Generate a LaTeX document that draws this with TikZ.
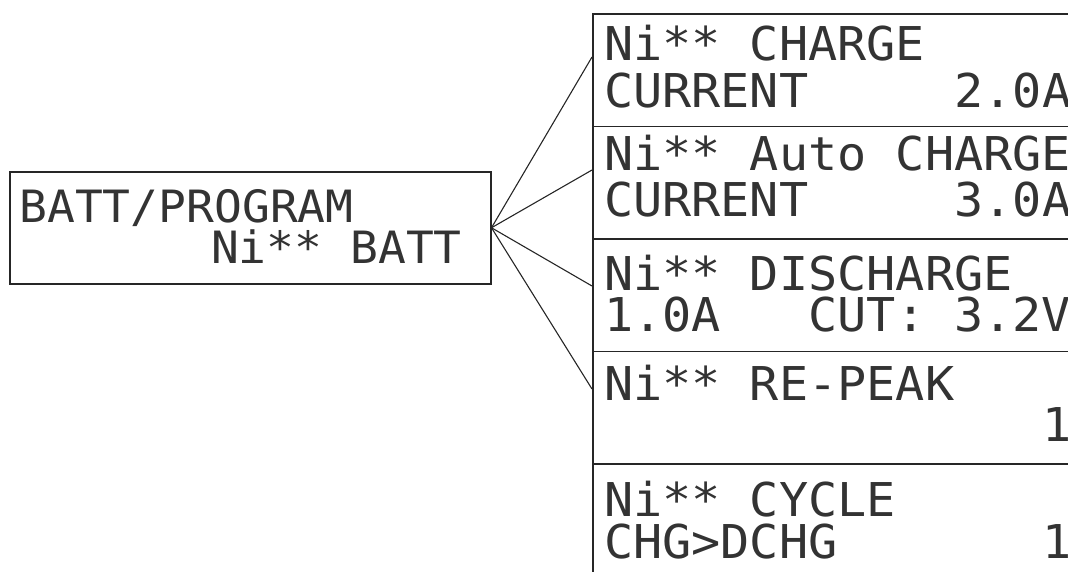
\documentclass[tikz,border=0pt]{standalone}
\usepackage{fontspec}
\newfontfamily\lcdfont[FakeStretch=1.04]{DejaVu Sans Mono}
\begin{document}
\begin{tikzpicture}[x=1pt,y=-1pt,
  panel/.style={draw=black!85, line width=1.5pt, inner sep=0pt, anchor=north west},
  lcd/.style={anchor=base west, inner sep=0pt, outer sep=0pt, text=black!80,
    text height=34pt, text depth=0pt,
    font=\lcdfont\fontsize{46.6}{46.6}\selectfont},
  lcdsmall/.style={lcd, text height=32pt, font=\lcdfont\fontsize{44.5}{44.5}\selectfont},
  link/.style={draw=black!85, line width=1.1pt}]
\useasboundingbox (0,0) rectangle (1068,571);
\clip (0,0) rectangle (1068,571);
% left panel
\node[panel, minimum width=481pt, minimum height=112pt] (lbox) at (9,171) {};
\node[lcdsmall] (l1) at (19.3,222) {BATT/PROGRAM};
\node[lcdsmall] (l2) at ({19.3+7*27.4},263) {Ni** BATT};
% right panels
\foreach \i/\y in {1/13.3,2/125.8,3/238.3,4/350.8,5/463.3}
  \node[panel, minimum width=498pt, minimum height=112.5pt] (r\i) at (592,\y) {};
% connector ends
\coordinate (e1) at (592,57);
\coordinate (e2) at (592,170);
\coordinate (e3) at (592,286);
\coordinate (e4) at (592,389);
\foreach \i in {1,2,3,4}
  \draw[link] (lbox.east) -- (e\i);
% texts
\def\xo{604.1}\def\pc{29.2}
\node[lcd] (t1a) at (\xo,60) {Ni** CHARGE};
\node[lcd] (t1b) at (\xo,107) {CURRENT};
\node[lcd] (t1c) at ({\xo+12*\pc},107) {2.0A};
\node[lcd] (t2a) at (\xo,170) {Ni** Auto CHARGE};
\node[lcd] (t2b) at (\xo,216.7) {CURRENT};
\node[lcd] (t2c) at ({\xo+12*\pc},216.7) {3.0A};
\node[lcd] (t3a) at (\xo,290) {Ni** DISCHARGE};
\node[lcd] (t3b) at (\xo,331.7) {1.0A};
\node[lcd] (t3c) at ({\xo+7*\pc},331.7) {CUT: 3.2V};
\node[lcd] (t4a) at (\xo,400.7) {Ni** RE-PEAK};
\node[lcd] (t4b) at ({\xo+15*\pc},441.7) {1};
\node[lcd] (t5a) at (\xo,516.7) {Ni** CYCLE};
\node[lcd] (t5b) at (\xo,558) {CHG>DCHG};
\node[lcd] (t5c) at ({\xo+15*\pc},558) {1};
\end{tikzpicture}
\end{document}
